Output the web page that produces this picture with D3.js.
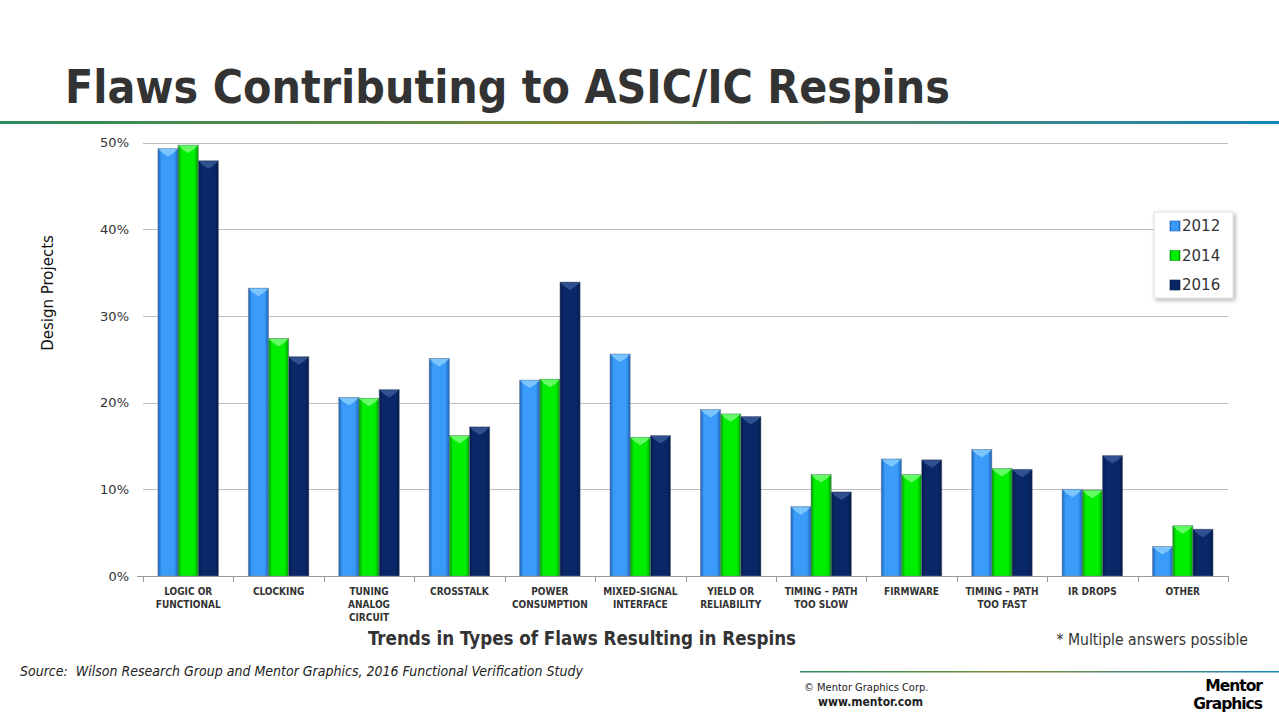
<!DOCTYPE html>
<meta charset="utf-8">
<style>
body { margin: 0; background: #fff; font-family: 'DejaVu Sans Condensed', 'DejaVu Sans', sans-serif; }
svg { display: block; }
.grid line { stroke: #bdbdbd; stroke-width: 1px; }
.ylab text { font-size: 14px; fill: #333; }
.xlab text { font-size: 10px; font-weight: bold; fill: #333; }
</style>
<body>
<script src="https://cdn.jsdelivr.net/npm/d3@7"></script>
<script>

// data
var categories = [
    ["LOGIC OR", "FUNCTIONAL"], ["CLOCKING"], ["TUNING", "ANALOG", "CIRCUIT"], ["CROSSTALK"],
    ["POWER", "CONSUMPTION"], ["MIXED-SIGNAL", "INTERFACE"], ["YIELD OR", "RELIABILITY"],
    ["TIMING \u2013 PATH", "TOO SLOW"], ["FIRMWARE"], ["TIMING \u2013 PATH", "TOO FAST"],
    ["IR DROPS"], ["OTHER"]
];
var years = ["2012", "2014", "2016"];
var v2012 = [49.3, 33.2, 20.6, 25.1, 22.6, 25.6, 19.2, 8.0, 13.5, 14.6, 10.0, 3.4];
var v2014 = [49.7, 27.4, 20.5, 16.2, 22.7, 16.0, 18.7, 11.7, 11.7, 12.4, 9.9, 5.8];
var v2016 = [47.9, 25.3, 21.5, 17.2, 33.9, 16.2, 18.4, 9.7, 13.4, 12.3, 13.9, 5.4];
var yTicks = [0, 10, 20, 30, 40, 50];

var series = [v2012, v2014, v2016];
var colors = {
    "2012": { main: "#3a9cf8", dark: "#1c62b8", light: "#8cd0ff" },
    "2014": { main: "#00ee00", dark: "#009a00", light: "#7dff7d" },
    "2016": { main: "#0a2868", dark: "#041a48", light: "#3a5a9a" }
};

var width = 1279, height = 720;
var svg = d3.select("body").append("svg")
    .attr("width", width)
    .attr("height", height);

var defs = svg.append("defs");

// header rule
var hg = defs.append("linearGradient").attr("id", "rule");
hg.append("stop").attr("offset", "0%").attr("stop-color", "#2a8a5c");
hg.append("stop").attr("offset", "45%").attr("stop-color", "#7b8c38");
hg.append("stop").attr("offset", "100%").attr("stop-color", "#1684b8");

years.forEach(function(y) {
    var g = defs.append("linearGradient").attr("id", "bar" + y);
    g.append("stop").attr("offset", "0%").attr("stop-color", colors[y].dark);
    g.append("stop").attr("offset", "18%").attr("stop-color", colors[y].main);
    g.append("stop").attr("offset", "80%").attr("stop-color", colors[y].main);
    g.append("stop").attr("offset", "100%").attr("stop-color", colors[y].dark);
});

var sh = defs.append("filter").attr("id", "shadow")
    .attr("x", "-20%").attr("y", "-20%").attr("width", "150%").attr("height", "150%");
sh.append("feDropShadow").attr("dx", 2).attr("dy", 2).attr("stdDeviation", 2)
    .attr("flood-color", "#000").attr("flood-opacity", 0.3);

// title
svg.append("text")
    .attr("x", 65).attr("y", 103)
    .style("font-size", "46px").style("font-weight", "bold").style("fill", "#333")
    .text("Flaws Contributing to ASIC/IC Respins");

svg.append("rect")
    .attr("x", 0).attr("y", 121).attr("width", width).attr("height", 3)
    .attr("fill", "url(#rule)");

// scales
var x0 = d3.scaleBand()
    .domain(d3.range(categories.length))
    .range([143, 1228]);

var x1 = d3.scaleBand()
    .domain(years)
    .range([0, x0.bandwidth()])
    .paddingOuter(0.74);

var y = d3.scaleLinear()
    .domain([0, 50])
    .range([576, 142.5]);

// grid
svg.append("g").attr("class", "grid")
    .selectAll("line").data(yTicks.filter(function(d) { return d > 0; }))
    .enter().append("line")
    .attr("x1", 143).attr("x2", 1228)
    .attr("y1", function(d) { return Math.round(y(d)) + 0.5; })
    .attr("y2", function(d) { return Math.round(y(d)) + 0.5; });

// y axis
var yAxis = svg.append("g").attr("class", "ylab")
    .attr("transform", "translate(143,0)")
    .call(d3.axisLeft(y).tickValues(yTicks).tickFormat(function(d) { return d + "%"; }).tickSize(0).tickPadding(14));
yAxis.select(".domain").remove();
yAxis.selectAll("text").style("font-family", "'DejaVu Sans', sans-serif").style("font-size", "13px").style("fill", "#333");

svg.append("text")
    .attr("transform", "translate(53,293) rotate(-90)")
    .attr("text-anchor", "middle")
    .style("font-family", "'DejaVu Sans', sans-serif")
    .style("font-size", "15px").style("fill", "#111")
    .text("Design Projects");

// bars
var groups = svg.append("g").selectAll("g")
    .data(categories)
    .enter().append("g")
    .attr("transform", function(d, i) { return "translate(" + x0(i) + ",0)"; });

groups.each(function(c, i) {
    var g = d3.select(this);
    years.forEach(function(yr, k) {
        var v = series[k][i];
        var bx = x1(yr), bw = x1.bandwidth(), by = y(v), bh = y(0) - y(v);
        g.append("rect")
            .attr("x", bx).attr("y", by)
            .attr("width", bw).attr("height", bh)
            .attr("fill", "url(#bar" + yr + ")")
            .attr("stroke", "#6a7a8a").attr("stroke-opacity", 0.6).attr("stroke-width", 0.8);
        g.append("path")
            .attr("d", "M" + (bx + 0.5) + "," + (by + 0.5) + "L" + (bx + bw - 0.5) + "," + (by + 0.5) +
                "L" + (bx + bw - 4) + "," + (by + 4) + "L" + (bx + bw / 2) + "," + (by + 8) +
                "L" + (bx + 4) + "," + (by + 4) + "Z")
            .attr("fill", colors[yr].light).attr("opacity", 0.8);
    });
});

// x axis
svg.append("line")
    .attr("x1", 143).attr("x2", 1229)
    .attr("y1", 576.5).attr("y2", 576.5)
    .attr("stroke", "#999");

var tickPos = d3.range(categories.length + 1).map(function(i) { return 143 + i * x0.step(); });
svg.append("g").selectAll("line").data(tickPos).enter().append("line")
    .attr("x1", function(d) { return Math.round(d) + 0.5; })
    .attr("x2", function(d) { return Math.round(d) + 0.5; })
    .attr("y1", 576).attr("y2", 582)
    .attr("stroke", "#999");
svg.append("line")
    .attr("x1", 137).attr("x2", 143).attr("y1", 576.5).attr("y2", 576.5).attr("stroke", "#999");

var xl = svg.append("g").attr("class", "xlab").selectAll("text")
    .data(categories).enter().append("text")
    .attr("text-anchor", "middle")
    .attr("x", function(d, i) { return x0(i) + x0.bandwidth() / 2; })
    .attr("y", 595);
xl.each(function(lines) {
    var t = d3.select(this);
    lines.forEach(function(l, j) {
        t.append("tspan").attr("x", t.attr("x")).attr("dy", j === 0 ? 0 : 13).text(l);
    });
});

svg.append("text")
    .attr("x", 582).attr("y", 645)
    .attr("text-anchor", "middle")
    .style("font-size", "18.6px").style("font-weight", "bold").style("fill", "#333")
    .text("Trends in Types of Flaws Resulting in Respins");

svg.append("text")
    .attr("x", 1248).attr("y", 645)
    .attr("text-anchor", "end")
    .style("font-size", "15.6px").style("fill", "#333")
    .text("* Multiple answers possible");

// legend
var lg = svg.append("g").attr("transform", "translate(1154,212)");
lg.append("rect")
    .attr("width", 79).attr("height", 86)
    .attr("fill", "#fff").attr("stroke", "#ddd")
    .attr("filter", "url(#shadow)");
years.forEach(function(yr, k) {
    var row = lg.append("g").attr("transform", "translate(0," + (k * 29.5) + ")");
    row.append("rect")
        .attr("x", 16).attr("y", 9).attr("width", 10).attr("height", 10)
        .attr("fill", "url(#bar" + yr + ")").attr("stroke", colors[yr].dark).attr("stroke-width", 0.6);
    row.append("text")
        .attr("x", 28).attr("y", 19)
        .style("font-family", "'DejaVu Sans', sans-serif")
        .style("font-size", "15px").style("fill", "#333")
        .text(yr);
});

// footer
svg.append("text")
    .attr("x", 20).attr("y", 676)
    .style("font-size", "14px").style("font-style", "italic").style("fill", "#222")
    .style("white-space", "pre")
    .text("Source:  Wilson Research Group and Mentor Graphics, 2016 Functional Verification Study");

svg.append("rect")
    .attr("x", 800).attr("y", 671).attr("width", 479).attr("height", 1.5)
    .attr("fill", "url(#rule)");

svg.append("text")
    .attr("x", 804).attr("y", 691)
    .style("font-size", "11px").style("fill", "#222")
    .text("\u00a9 Mentor Graphics Corp.");

svg.append("text")
    .attr("x", 818).attr("y", 706)
    .style("font-size", "12px").style("font-weight", "bold").style("fill", "#222")
    .text("www.mentor.com");

var logo = svg.append("g").style("font-weight", "bold").style("fill", "#000")
    .style("font-family", "'DejaVu Sans', sans-serif")
    .attr("text-anchor", "end");
logo.append("text").attr("x", 1262).attr("y", 691)
    .style("font-size", "15.5px").style("letter-spacing", "-1px")
    .text("Mentor");
logo.append("text").attr("x", 1262).attr("y", 709)
    .style("font-size", "15.5px").style("letter-spacing", "-1px")
    .text("Graphics");

</script>
</body>
